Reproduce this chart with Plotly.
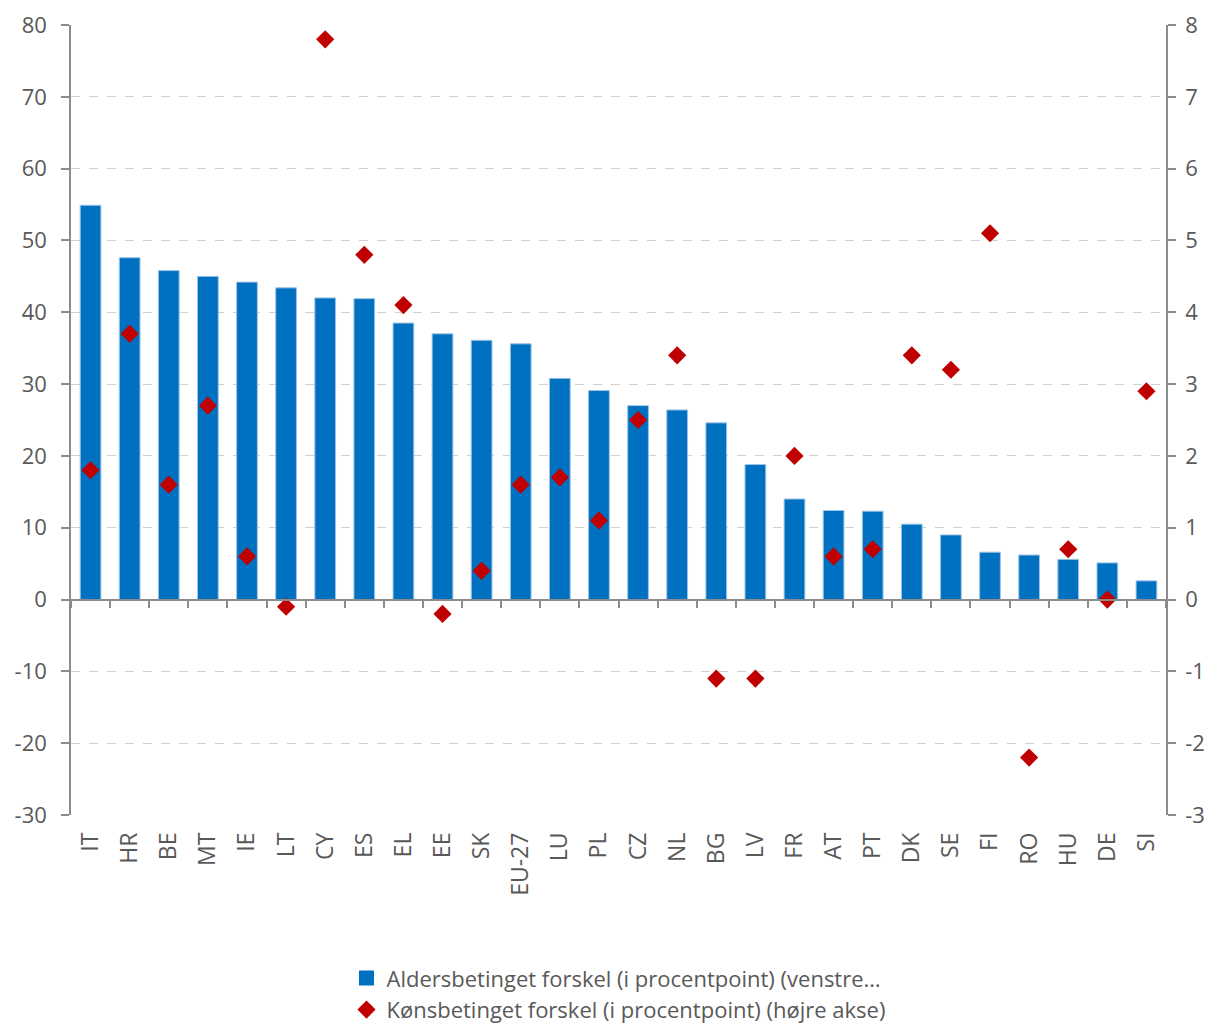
import plotly.graph_objects as go

categories = ["IT", "HR", "BE", "MT", "IE", "LT", "CY", "ES", "EL", "EE", "SK", "EU-27", "LU", "PL",
              "CZ", "NL", "BG", "LV", "FR", "AT", "PT", "DK", "SE", "FI", "RO", "HU", "DE", "SI"]
age_gap = [54.9, 47.6, 45.8, 45.0, 44.2, 43.4, 42.0, 41.9, 38.5, 37.0, 36.1, 35.6, 30.8, 29.1,
           27.0, 26.4, 24.6, 18.8, 14.0, 12.4, 12.3, 10.5, 9.0, 6.6, 6.2, 5.6, 5.1, 2.6]
gender_gap = [1.8, 3.7, 1.6, 2.7, 0.6, -0.1, 7.8, 4.8, 4.1, -0.2, 0.4, 1.6, 1.7, 1.1,
              2.5, 3.4, -1.1, -1.1, 2.0, 0.6, 0.7, 3.4, 3.2, 5.1, -2.2, 0.7, 0.0, 2.9]

left_ticks = list(range(-30, 81, 10))
right_ticks = list(range(-3, 9, 1))
left_labels = [str(v) for v in left_ticks]
right_labels = [str(v) for v in right_ticks]

name_age = "Aldersbetinget forskel (i procentpoint) (venstre…"
name_gender = "Kønsbetinget forskel (i procentpoint) (højre akse)"

FONT = "Open Sans"
TXT = "#595959"
AX = "#8c8c8c"
GRID = "#d0d0d0"
BLUE = "#0070C0"
RED = "#C00000"

fig = go.Figure()
fig.add_trace(go.Bar(
    x=categories, y=age_gap, name=name_age, showlegend=False, legendgroup="age",
    marker=dict(color=BLUE, line=dict(color="#9dc3e6", width=1)),
    width=0.53, yaxis="y", xaxis="x",
))
# legend entry for the bars (larger square icon)
fig.add_trace(go.Scatter(
    x=[None], y=[None], name=name_age, legendgroup="age", mode="markers",
    marker=dict(symbol="square", color=BLUE, size=15), yaxis="y", xaxis="x",
))
fig.add_trace(go.Scatter(
    x=categories, y=gender_gap, name=name_gender,
    mode="markers", marker=dict(symbol="diamond", color=RED, size=14),
    yaxis="y2", xaxis="x",
))
# invisible helper trace so the zero-line category axis (with boundary ticks) is drawn
fig.add_trace(go.Scatter(
    x=categories, y=[None] * len(categories), xaxis="x3", yaxis="y",
    showlegend=False, hoverinfo="skip", mode="markers",
))

zero_pos = (0 - left_ticks[0]) / (left_ticks[-1] - left_ticks[0])

fig.update_layout(
    width=1205, height=1017,
    margin=dict(l=63, r=47, t=17, b=210, autoexpand=False),
    plot_bgcolor="white", paper_bgcolor="white",
    font=dict(family=FONT, color=TXT, size=23),
    bargap=0.47,
    showlegend=True,
    legend=dict(orientation="v", x=0.5, xanchor="center", y=-0.18, yanchor="top",
                font=dict(family=FONT, size=22, color=TXT), tracegroupgap=0,
                itemwidth=30),
    xaxis=dict(type="category", categoryorder="array", categoryarray=categories,
               range=[-0.5, len(categories) - 0.5], showline=False, ticks="",
               showgrid=False, tickangle=-90, tickfont=dict(family=FONT, size=23, color=TXT),
               ticklabelstandoff=12, zeroline=False, automargin=False),
    xaxis3=dict(type="category", categoryorder="array", categoryarray=categories,
                range=[-0.5, len(categories) - 0.5], overlaying="x", anchor="free",
                position=zero_pos, side="bottom", showline=True, linecolor=AX, linewidth=1.5,
                ticks="outside", tickson="boundaries", ticklen=8, tickcolor=AX, tickwidth=1.5,
                showticklabels=False, showgrid=False, zeroline=False, automargin=False),
    yaxis=dict(range=[left_ticks[0], left_ticks[-1]], tickvals=left_ticks, ticktext=left_labels,
               showline=True, linecolor=AX, linewidth=1.5, ticks="outside", ticklen=8,
               tickcolor=AX, tickwidth=1.5, showgrid=True, gridcolor=GRID, griddash="dash",
               gridwidth=1, zeroline=False, automargin=False,
               tickfont=dict(family=FONT, size=22, color=TXT), ticklabelstandoff=10),
    yaxis2=dict(range=[right_ticks[0], right_ticks[-1]], tickvals=right_ticks, ticktext=right_labels,
                overlaying="y", side="right", showline=True, linecolor=AX, linewidth=1.5,
                ticks="outside", ticklen=8, tickcolor=AX, tickwidth=1.5, showgrid=False,
                zeroline=False, automargin=False,
                tickfont=dict(family=FONT, size=22, color=TXT), ticklabelstandoff=5),
)

fig.write_html("out.html")
